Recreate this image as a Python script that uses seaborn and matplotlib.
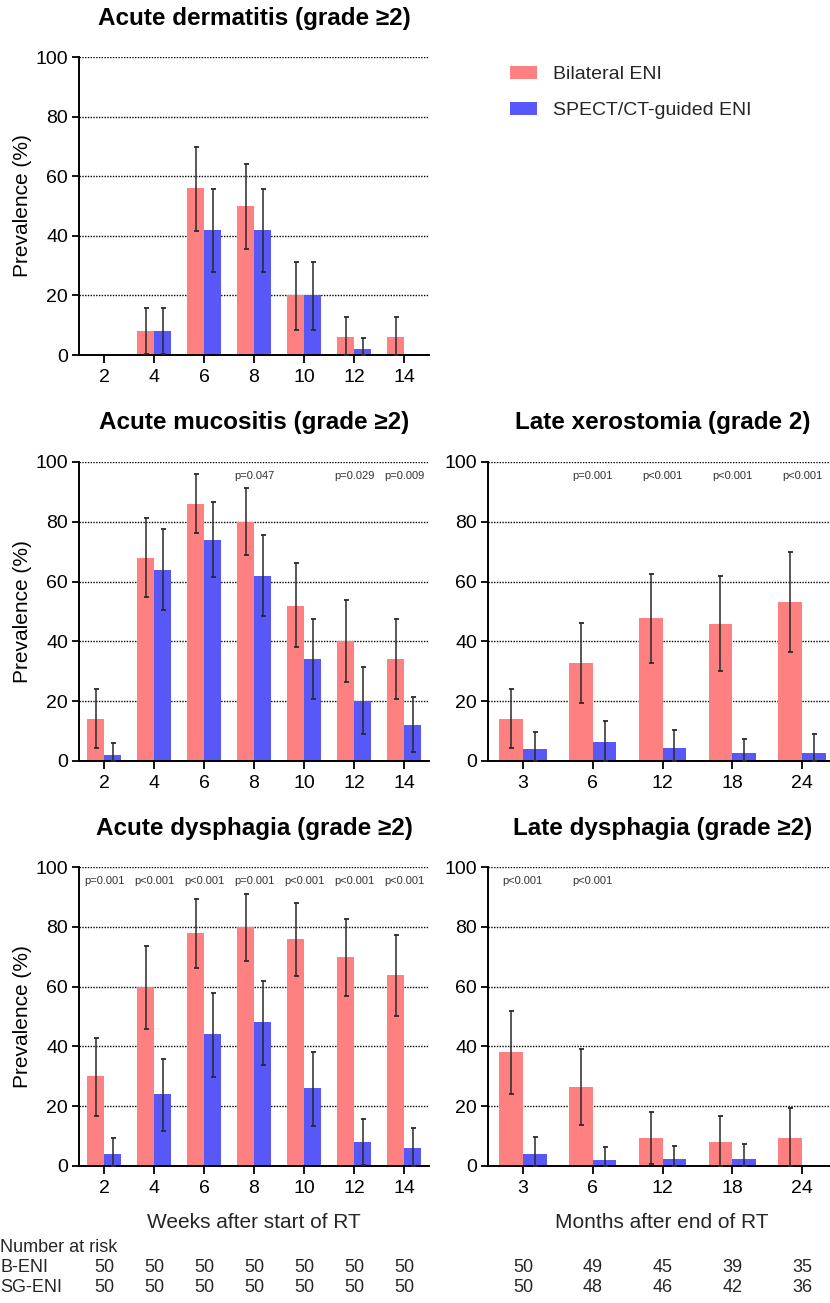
import numpy as np
import pandas as pd
import matplotlib
matplotlib.use("Agg")
import matplotlib.pyplot as plt
import seaborn as sns
from matplotlib.patches import Patch
from matplotlib.transforms import blended_transform_factory

# categories
WEEKS = ["2", "4", "6", "8", "10", "12", "14"]
MONTHS = ["3", "6", "12", "18", "24"]
GROUPS = ["Bilateral ENI", "SPECT/CT-guided ENI"]
COLORS = ["#FF8080", "#5858F8"]

# Acute dermatitis (grade >=2)
DERM_B = [0, 8, 56, 50, 20, 6, 6]
DERM_B_LO = [0, 0.4, 41.7, 35.7, 8.5, 0, 0]
DERM_B_HI = [0, 15.8, 69.9, 64.0, 31.1, 12.7, 12.7]
DERM_SG = [0, 8, 42, 42, 20, 2, 0]
DERM_SG_LO = [0, 0.4, 27.9, 27.9, 8.5, 0, 0]
DERM_SG_HI = [0, 15.8, 55.8, 55.8, 31.1, 5.8, 0]
DERM_P = ["", "", "", "", "", "", ""]

# Acute mucositis (grade >=2)
MUC_B = [14, 68, 86, 80, 52, 40, 34]
MUC_B_LO = [4.3, 55.0, 76.3, 68.8, 38.0, 26.3, 20.7]
MUC_B_HI = [24.0, 81.2, 95.9, 91.3, 66.2, 53.9, 47.5]
MUC_SG = [2, 64, 74, 62, 34, 20, 12]
MUC_SG_LO = [0, 50.5, 61.7, 48.4, 20.7, 8.9, 2.9]
MUC_SG_HI = [6.1, 77.7, 86.5, 75.7, 47.5, 31.4, 21.3]
MUC_P = ["", "", "", "p=0.047", "", "p=0.029", "p=0.009"]

# Late xerostomia (grade 2)
XERO_B = [14.0, 32.8, 47.8, 45.8, 53.2]
XERO_B_LO = [4.3, 19.4, 32.8, 30.1, 36.4]
XERO_B_HI = [24.0, 46.3, 62.5, 62.0, 69.9]
XERO_SG = [4.0, 6.4, 4.3, 2.6, 2.8]
XERO_SG_LO = [0, 0, 0, 0, 0]
XERO_SG_HI = [9.8, 13.5, 10.5, 7.5, 8.9]
XERO_P = ["", "p=0.001", "p<0.001", "p<0.001", "p<0.001"]

# Acute dysphagia (grade >=2)
DYS_B = [30, 60, 78, 80, 76, 70, 64]
DYS_B_LO = [16.8, 45.9, 66.1, 68.6, 63.7, 56.9, 50.3]
DYS_B_HI = [42.7, 73.7, 89.4, 91.1, 88.0, 82.7, 77.4]
DYS_SG = [4, 24, 44, 48, 26, 8, 6]
DYS_SG_LO = [0, 11.7, 29.8, 33.7, 13.4, 0.4, 0]
DYS_SG_HI = [9.5, 35.9, 57.9, 62.0, 38.2, 15.6, 12.6]
DYS_P = ["p=0.001", "p<0.001", "p<0.001", "p=0.001", "p<0.001", "p<0.001", "p<0.001"]

# Late dysphagia (grade >=2)
LDYS_B = [38.1, 26.4, 9.3, 8.0, 9.3]
LDYS_B_LO = [24.2, 13.8, 0.8, 0, 0]
LDYS_B_HI = [51.7, 39.0, 18.2, 16.8, 19.3]
LDYS_SG = [4.0, 2.0, 2.3, 2.3, 0]
LDYS_SG_LO = [0, 0, 0, 0, 0]
LDYS_SG_HI = [9.6, 6.2, 6.6, 7.5, 0]
LDYS_P = ["p<0.001", "p<0.001", "", "", ""]

# number at risk
RISK_WEEKS_B = [50, 50, 50, 50, 50, 50, 50]
RISK_WEEKS_SG = [50, 50, 50, 50, 50, 50, 50]
RISK_MONTHS_B = [50, 49, 45, 39, 35]
RISK_MONTHS_SG = [50, 48, 46, 42, 36]

sns.set_theme(style="ticks")
plt.rcParams['font.family'] = ['Liberation Sans', 'DejaVu Sans']

W, H = 830, 1303
fig = plt.figure(figsize=(W / 100, H / 100), dpi=100)


def box(x0, y0, x1, y1):
    # pixel box -> figure fraction
    return [x0 / W, 1 - y1 / H, (x1 - x0) / W, (y1 - y0) / H]


def panel(rect, title, cats, b, b_lo, b_hi, sg, sg_lo, sg_hi, pvals, ylabel):
    ax = fig.add_axes(rect)
    df = pd.DataFrame({
        "time": cats + cats,
        "group": [GROUPS[0]] * len(cats) + [GROUPS[1]] * len(cats),
        "value": b + sg,
    })
    sns.barplot(data=df, x="time", y="value", hue="group", order=cats,
                hue_order=GROUPS, palette=COLORS, width=0.68, saturation=1,
                errorbar=None, legend=False, linewidth=0, ax=ax, zorder=2)

    # confidence intervals on top of the bars
    for cont, vals, lo, hi in zip(ax.containers, [b, sg], [b_lo, sg_lo], [b_hi, sg_hi]):
        for patch, v, l, h in zip(cont.patches, vals, lo, hi):
            if h - l <= 0:
                continue
            xc = patch.get_x() + patch.get_width() / 2
            ax.errorbar(xc, v, yerr=[[v - l], [h - v]], fmt="none",
                        ecolor="#2a2a2a", elinewidth=1.1, capsize=1.8,
                        capthick=1.3, zorder=3, clip_on=False)

    for i, p in enumerate(pvals):
        if p:
            ax.text(i, 95.3, p, ha="center", va="center", fontsize=8,
                    color="#333333", zorder=4)

    ax.set_ylim(0, 100)
    ax.set_xlim(-0.5, len(cats) - 0.5)
    ax.set_yticks([0, 20, 40, 60, 80, 100])
    ax.yaxis.grid(True, linestyle=(0, (1, 1)), color="black", linewidth=1.0)
    ax.xaxis.grid(False)
    ax.set_axisbelow(True)
    for s in ["top", "right"]:
        ax.spines[s].set_visible(False)
    for s in ["left", "bottom"]:
        ax.spines[s].set_color("black")
        ax.spines[s].set_linewidth(1.4)
    ax.tick_params(axis="both", labelsize=14, colors="black", width=1.3)
    ax.tick_params(axis="y", length=5, pad=3)
    ax.tick_params(axis="x", length=6, pad=4)
    ax.set_xlabel("")
    if ylabel:
        ax.set_ylabel("Prevalence (%)", fontsize=15, color="black")
        ax.yaxis.set_label_coords(-0.135, 0.5)
    else:
        ax.set_ylabel("")
    ax.text(0.5, 1 + 39 / 299, title, transform=ax.transAxes, ha="center",
            va="center", fontsize=17.5, fontweight="bold", color="black")
    return ax


ax_derm = panel(box(79, 57, 429, 355), "Acute dermatitis (grade \u22652)", WEEKS,
                DERM_B, DERM_B_LO, DERM_B_HI, DERM_SG, DERM_SG_LO, DERM_SG_HI, DERM_P, True)
ax_muc = panel(box(79, 462, 429, 761), "Acute mucositis (grade \u22652)", WEEKS,
               MUC_B, MUC_B_LO, MUC_B_HI, MUC_SG, MUC_SG_LO, MUC_SG_HI, MUC_P, True)
ax_xero = panel(box(488, 462, 837, 761), "Late xerostomia (grade 2)", MONTHS,
                XERO_B, XERO_B_LO, XERO_B_HI, XERO_SG, XERO_SG_LO, XERO_SG_HI, XERO_P, False)
ax_dys = panel(box(79, 867, 429, 1166), "Acute dysphagia (grade \u22652)", WEEKS,
               DYS_B, DYS_B_LO, DYS_B_HI, DYS_SG, DYS_SG_LO, DYS_SG_HI, DYS_P, True)
ax_ldys = panel(box(488, 867, 837, 1166), "Late dysphagia (grade \u22652)", MONTHS,
                LDYS_B, LDYS_B_LO, LDYS_B_HI, LDYS_SG, LDYS_SG_LO, LDYS_SG_HI, LDYS_P, False)

# legend in the empty top-right corner
handles = [Patch(facecolor=c, edgecolor="none", label=g) for c, g in zip(COLORS, GROUPS)]
fig.legend(handles=handles, loc="upper left", bbox_to_anchor=(510 / W, 1 - 66 / H),
           frameon=False, fontsize=14, handlelength=1.4, handleheight=0.65,
           handletextpad=0.8, labelspacing=0.95, borderpad=0, borderaxespad=0)

# x axis titles
fig.text(254 / W, 1 - 1223 / H, "Weeks after start of RT", ha="center", va="center", fontsize=15)
fig.text(662 / W, 1 - 1223 / H, "Months after end of RT", ha="center", va="center", fontsize=15)

# number at risk table
risk_font = ['Liberation Sans Narrow', 'Liberation Sans', 'DejaVu Sans']
fig.text(0.0, 1 - 1248 / H, "Number at risk", ha="left", va="center", fontsize=13, family=risk_font)
fig.text(0.0, 1 - 1268 / H, "B-ENI", ha="left", va="center", fontsize=13, family=risk_font)
fig.text(0.0, 1 - 1288 / H, "SG-ENI", ha="left", va="center", fontsize=13, family=risk_font)
for ax, rb, rs in [(ax_dys, RISK_WEEKS_B, RISK_WEEKS_SG), (ax_ldys, RISK_MONTHS_B, RISK_MONTHS_SG)]:
    tr = blended_transform_factory(ax.transData, fig.transFigure)
    for i, (nb, ns) in enumerate(zip(rb, rs)):
        ax.text(i, 1 - 1268 / H, str(nb), transform=tr, ha="center", va="center",
                fontsize=13, family=risk_font, clip_on=False)
        ax.text(i, 1 - 1288 / H, str(ns), transform=tr, ha="center", va="center",
                fontsize=13, family=risk_font, clip_on=False)

fig.savefig("out.png", dpi=100)
